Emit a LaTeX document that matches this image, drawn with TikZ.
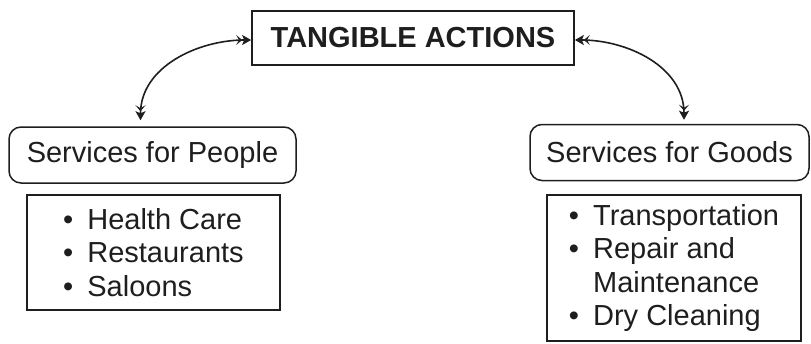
\documentclass[tikz,border=0pt]{standalone}
\usepackage{fontspec}
\setmainfont{Liberation Sans}
\usetikzlibrary{arrows.meta}
\definecolor{ink}{HTML}{1E1E1E}
\begin{document}
\begin{tikzpicture}[x=1pt,y=-1pt,
  every node/.style={font=\fontsize{29}{33.5}\selectfont, text=ink, inner sep=0pt},
  headbox/.style={draw=ink, line width=1.7pt, minimum width=322pt, minimum height=54pt, font=\fontsize{29}{33.5}\selectfont\bfseries},
  groupbox/.style={draw=ink, line width=1.5pt, rounded corners=12pt, minimum height=56pt},
  listbox/.style={draw=ink, line width=1.7pt, align=left},
  fronttip/.tip={Stealth[length=9pt,width=10pt,inset=2pt,sep=0pt]},
  backtip/.tip={Stealth[length=6pt,width=10pt,inset=3pt,sep=0pt]},
  link/.style={draw=ink, line width=1.6pt, arrows={fronttip[]backtip[]-backtip[]fronttip[]}}
]
\useasboundingbox (0,0) rectangle (811,343);
\newcommand{\itm}{\textbullet\hspace{14pt}}
\newcommand{\itmgap}{\hphantom{\textbullet\hspace{14pt}}}

\node[headbox] (title) at (413,38) {TANGIBLE ACTIONS};

\node[groupbox, minimum width=287pt] (people) at (152.5,155) {Services for People};
\node[groupbox, minimum width=279pt] (goods) at (669.5,152.5) {Services for Goods};

\node[listbox, minimum width=253pt, minimum height=115pt] (plist) at (153.5,252.5)
  {\itm Health Care\\ \itm Restaurants\\ \itm Saloons};
\node[listbox, minimum width=254pt, minimum height=146pt] (glist) at (674,268)
  {\itm Transportation\\ \itm Repair and\\ \itmgap Maintenance\\ \itm Dry Cleaning};

\draw[link] ([yshift=-2pt]title.west) to[out=180,in=90] ([xshift=-12pt,yshift=6pt]people.north);
\draw[link] ([yshift=-2pt]title.east) to[out=0,in=90] ([xshift=14.5pt,yshift=4pt]goods.north);
\end{tikzpicture}
\end{document}
